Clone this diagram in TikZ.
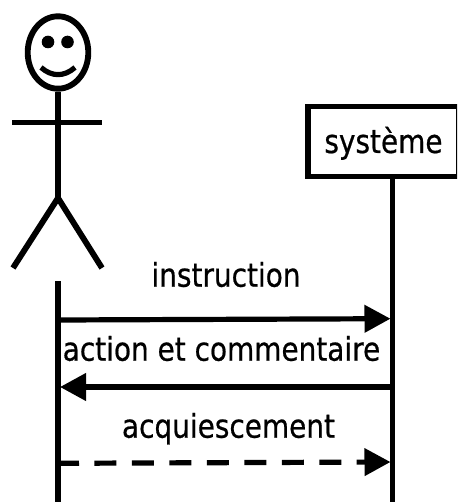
\documentclass[tikz,border=0pt]{standalone}
\usepackage{fontspec}
\setmainfont{DejaVu Sans}[FakeStretch=0.855,FakeBold=0.6]
\usetikzlibrary{arrows.meta}
\tikzset{
  ink/.style={draw=black,line width=4.4pt},
  msg/.style={draw=black,line width=3.9pt,-{Triangle[length=19.5pt,width=20pt]}},
  dashmsg/.style={msg,dash pattern=on 16.5pt off 11.6pt,dash phase=2.25pt},
  lbl/.style={anchor=base,inner sep=0pt,font=\fontsize{24.5pt}{28pt}\selectfont},
  objbox/.style={draw=black,line width=4.2pt,fill=white,inner sep=0pt,minimum width=113.25pt,minimum height=52.5pt,
    text height=17.2pt,text depth=0pt,font=\fontsize{24.5pt}{28pt}\selectfont},
}
\begin{document}
\begin{tikzpicture}[x=0.75pt,y=-0.75pt]
\useasboundingbox (0,0) rectangle (457,502);
\clip (0,0) rectangle (457,502);
% actor
\draw[ink] (58,52.5) ellipse [x radius=30.3,y radius=36.2];
\fill (48,42) circle [radius=6.3];
\fill (67.5,42) circle [radius=6.3];
\draw[draw=black,line width=3.9pt] (41,67.5) .. controls (52,77) and (64,77) .. (75,67.5);
\coordinate (neck) at (58,92);
\coordinate (hip) at (58,198);
\coordinate (armL) at (12,122.5);
\coordinate (armR) at (102,122.5);
\coordinate (footL) at (13,268);
\coordinate (footR) at (102,268);
\draw[ink] (neck) -- (hip);
\draw[ink] (armL) -- (armR);
\draw[ink] (footL) -- (hip) -- (footR);
% lifelines
\node[objbox] (boxB) at (383.5,141.5) {système};
\coordinate (lifeTopA) at (58,281);
\coordinate (lifeEndA) at (58,505);
\coordinate (lifeEndB) at (392.5,505);
\draw[ink] (lifeTopA) -- (lifeEndA);
\draw[ink] (boxB.south -| lifeEndB) -- (lifeEndB);
% messages
\coordinate (m1a) at (60,320);
\coordinate (m1b) at (390.5,318.7);
\coordinate (m2a) at (392,387);
\coordinate (m2b) at (60,387);
\coordinate (m3a) at (60,463.3);
\coordinate (m3b) at (390.5,462);
\draw[msg] (m1a) -- (m1b);
\draw[msg] (m2a) -- (m2b);
\draw[dashmsg] (m3a) -- (m3b);
% labels
\node[lbl] (t1) at (226,286.7) {instruction};
\node[lbl] (t2) at (221.5,360.7) {action et commentaire};
\node[lbl] (t3) at (228.5,437.7) {acquiescement};
\end{tikzpicture}
\end{document}
